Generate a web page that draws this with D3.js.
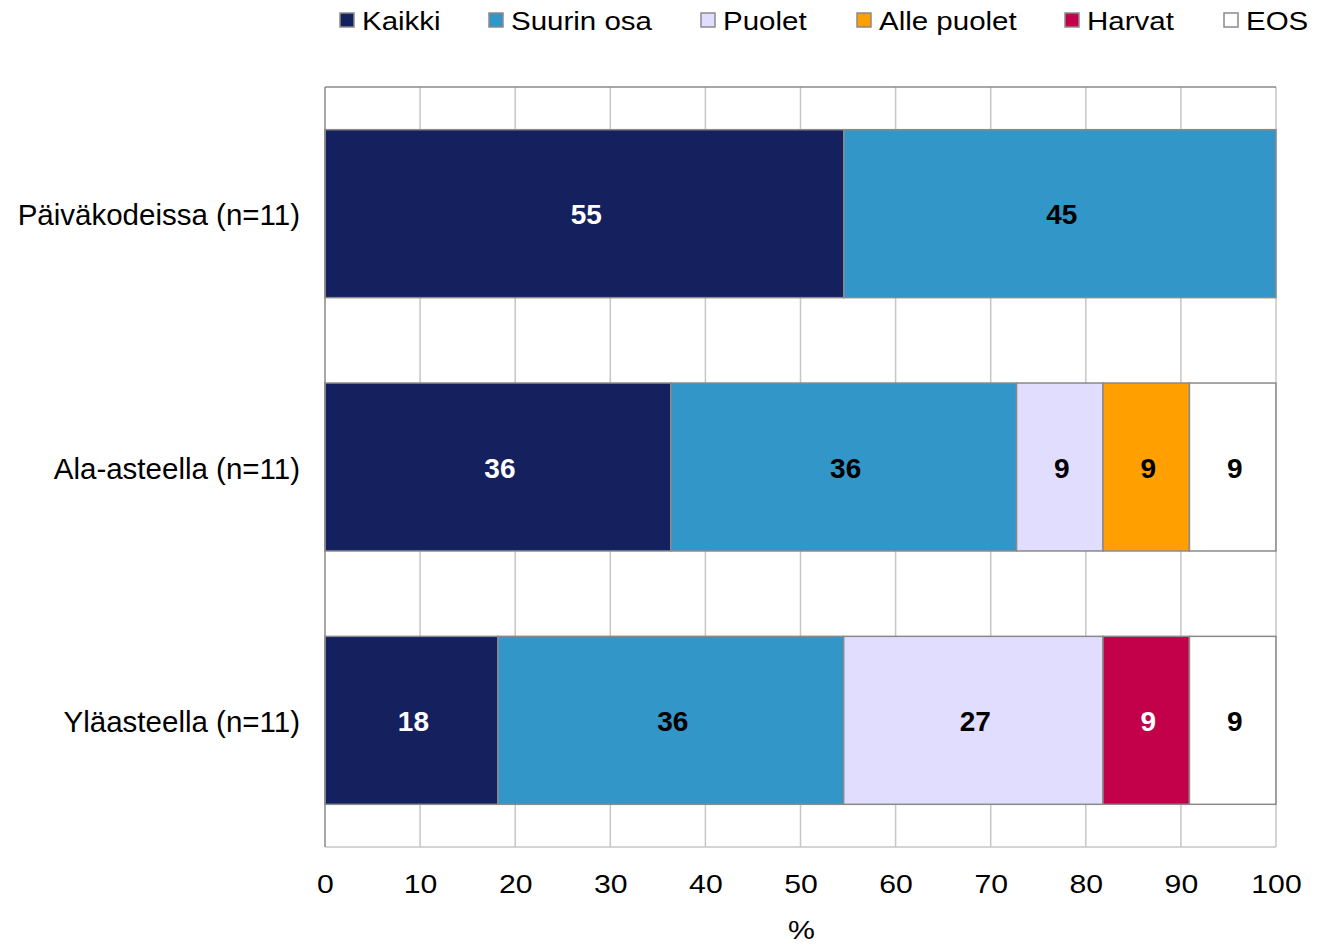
<!DOCTYPE html>
<html><head><meta charset="utf-8">
<script src="https://cdn.jsdelivr.net/npm/d3@7"></script>
<style>body{margin:0;background:#fff}svg{display:block}text{font-family:"Liberation Sans",Arial,sans-serif}</style>
</head><body><svg id="c" width="1318" height="945"></svg>
<script>
const categories = ["Päiväkodeissa (n=11)", "Ala-asteella (n=11)", "Yläasteella (n=11)"];
const seriesNames = ["Kaikki", "Suurin osa", "Puolet", "Alle puolet", "Harvat", "EOS"];
const seriesColors = ["#15205E", "#3396C8", "#E0DDFF", "#FFA000", "#C3004A", "#FFFFFF"];
const labelColors = ["#fff", "#000", "#000", "#000", "#fff", "#000"];
const Kaikki = [54.55, 36.36, 18.18];
const SuurinOsa = [45.45, 36.36, 36.36];
const Puolet = [0, 9.09, 27.27];
const AllePuolet = [0, 9.09, 0];
const Harvat = [0, 0, 9.09];
const EOS = [0, 9.09, 9.09];
const xTicks = [0, 10, 20, 30, 40, 50, 60, 70, 80, 90, 100];
const xTitle = "%";

const seriesValues = [Kaikki, SuurinOsa, Puolet, AllePuolet, Harvat, EOS];
const rows = categories.map((c, i) => {
  const o = {cat: c};
  seriesNames.forEach((s, j) => o[s] = seriesValues[j][i]);
  return o;
});
const stack = d3.stack().keys(seriesNames)(rows);

const svg = d3.select("#c");
const m = {l: 325, r: 1276, t: 87, b: 847};
const x = d3.scaleLinear().domain([0, 100]).range([m.l, m.r]);
const y = d3.scaleBand().domain(categories).range([m.t, m.b]).paddingInner(0.337).paddingOuter(0.337/2);

// gridlines
svg.append("g").selectAll("line").data(xTicks.slice(1)).join("line")
  .attr("x1", d => x(d)).attr("x2", d => x(d)).attr("y1", m.t).attr("y2", m.b)
  .attr("stroke", "#c6c6c6").attr("stroke-width", 1.5);
svg.append("line").attr("x1", m.l).attr("x2", m.r).attr("y1", m.b).attr("y2", m.b)
  .attr("stroke", "#c6c6c6").attr("stroke-width", 1.5);
svg.append("line").attr("x1", m.l).attr("x2", m.r).attr("y1", m.t).attr("y2", m.t)
  .attr("stroke", "#8a8a8a").attr("stroke-width", 1.5);

// bars
const groups = svg.append("g").selectAll("g").data(stack).join("g");
groups.selectAll("rect").data(d => d.filter(p => p[1] - p[0] > 0)).join("rect")
  .attr("x", d => x(d[0])).attr("width", d => x(d[1]) - x(d[0]))
  .attr("y", d => y(d.data.cat)).attr("height", y.bandwidth())
  .attr("fill", function() { return seriesColors[d3.select(this.parentNode).datum().index]; })
  .attr("stroke", "#8a8a8a").attr("stroke-width", 1.5);
groups.selectAll("text").data(d => d.filter(p => p[1] - p[0] > 0)).join("text")
  .attr("x", d => (x(d[0]) + x(d[1])) / 2).attr("y", d => y(d.data.cat) + y.bandwidth() / 2)
  .attr("text-anchor", "middle").attr("dx", 2).attr("dy", "0.38em")
  .attr("font-size", 28).attr("font-weight", "bold")
  .attr("fill", function() { return labelColors[d3.select(this.parentNode).datum().index]; })
  .text(d => Math.round(d[1] - d[0]));

// left axis line
svg.append("line").attr("x1", m.l).attr("x2", m.l).attr("y1", m.t).attr("y2", m.b)
  .attr("stroke", "#8a8a8a").attr("stroke-width", 1.5);

// category labels
const ay = svg.append("g").attr("transform", `translate(${m.l},0)`).call(d3.axisLeft(y).tickSize(0).tickPadding(25));
ay.select(".domain").remove();
ay.selectAll("text").attr("font-size", 29.5).attr("dy", "0.4em").attr("fill", "#000").attr("font-family", "Liberation Sans, Arial, sans-serif");

// x axis labels
const ax = svg.append("g").attr("transform", `translate(0,${m.b})`).call(d3.axisBottom(x).tickValues(xTicks).tickSize(0));
ax.select(".domain").remove();
ax.selectAll("text").attr("y", 0).attr("dy", 0).attr("transform", "translate(0,46) scale(1.14,1)")
  .attr("font-size", 26.5).attr("fill", "#000").attr("font-family", "Liberation Sans, Arial, sans-serif");
svg.append("text").attr("transform", `translate(${(m.l + m.r) / 2 + 1},939) scale(1.14,1)`).attr("text-anchor", "middle").attr("font-size", 26.5).text(xTitle);

// legend
const legX = [340, 489, 701, 857, 1065, 1224];
const leg = svg.append("g").selectAll("g").data(seriesNames).join("g")
  .attr("transform", (d, i) => `translate(${legX[i]},20)`);
leg.append("rect").attr("x", 0).attr("y", -7).attr("width", 14).attr("height", 14)
  .attr("fill", (d, i) => seriesColors[i]).attr("stroke", "#8a8a8a").attr("stroke-width", 1.5);
leg.append("text").attr("transform", "translate(22,0) scale(1.18,1)").attr("dy", "0.38em").attr("font-size", 25).text(d => d);
</script></body></html>
